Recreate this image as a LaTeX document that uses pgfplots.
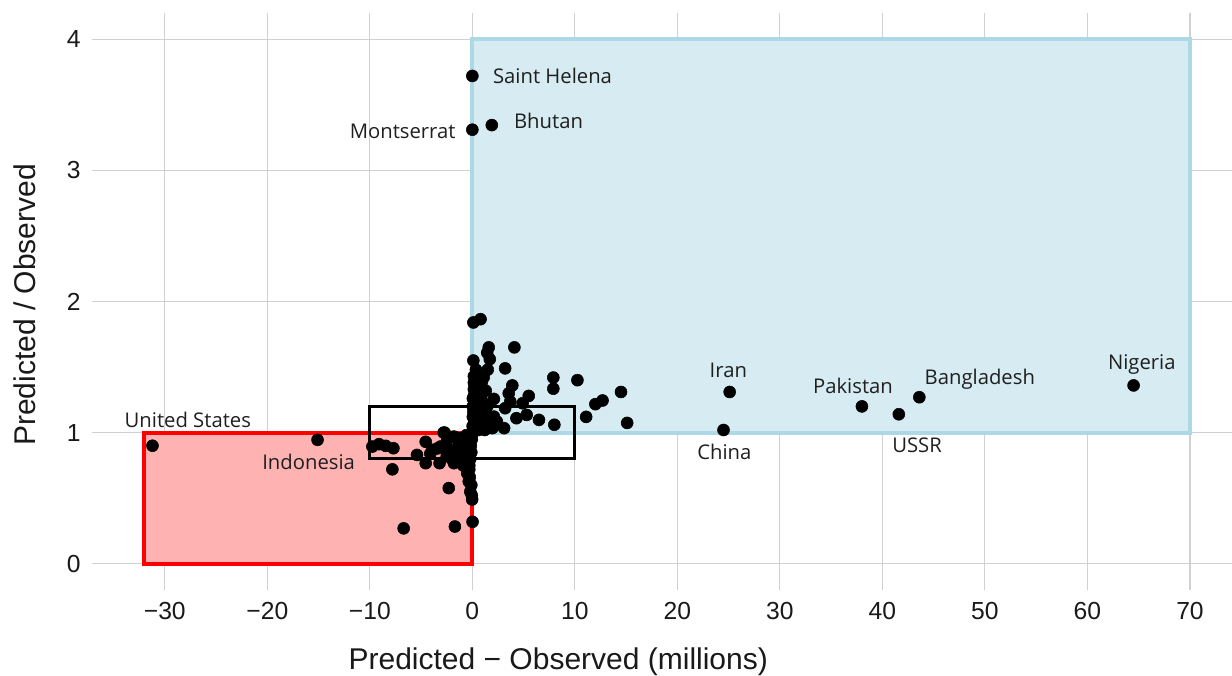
\documentclass[border=0pt]{standalone}
\usepackage{pgfplots}
\pgfplotsset{compat=1.18}
\usepackage{fontspec}
\setmainfont{Liberation Sans}
\newfontfamily\lab{Open Sans}

\definecolor{boxblue}{HTML}{ADD8E6}
\definecolor{fillblue}{HTML}{D6EBF2}
\definecolor{fillred}{HTML}{FFB2B2}
\definecolor{gridgrey}{HTML}{D0D0D0}

\begin{document}
\begin{tikzpicture}
  \begin{axis}[
      name=ax,
      scale only axis,
      width=855pt, height=432.75pt,
      xmin=-37.1, xmax=74.1, ymin=-0.2, ymax=4.2,
      axis line style={draw=none},
      major tick length=0pt,
      xtick={-30,-20,...,70},
      xticklabels={−30,−20,−10,0,10,20,30,40,50,60,70},
      ytick={0,1,2,3,4},
      yticklabels={0,1,2,3,4},
      ticklabel style={font=\fontsize{18.5}{21}\selectfont, text=black!90},
      xticklabel style={yshift=-6pt},
      yticklabel style={xshift=-5pt},
      grid=major,
      major grid style={gridgrey, line width=0.8pt},
      xlabel={Predicted − Observed (millions)},
      ylabel={Predicted / Observed},
      label style={font=\fontsize{22.5}{26}\selectfont, text=black!90},
      xlabel style={at={(axis description cs:0.409,0)}, anchor=center, yshift=-54pt},
      ylabel style={at={(axis description cs:-0.0588,0.494)}, anchor=center},
      clip=false,
    ]
    % regions
    \addplot[fill=fillblue, draw=boxblue, line width=3pt] coordinates {(0,1) (70,1) (70,4) (0,4)} -- cycle;
    \addplot[fill=fillred, draw=red, line width=3pt] coordinates {(-32,0) (0,0) (0,1) (-32,1)} -- cycle;
    \addplot[draw=black, fill=none, line width=2.3pt] coordinates {(-10,0.8) (10,0.8) (10,1.2) (-10,1.2)} -- cycle;

    % countries
    \addplot[only marks, mark=*, mark size=4.5pt, mark options={fill=black, draw=black}] table {
      x y
      0.0 3.72
      0.0 3.31
      1.9 3.345
      -31.2 0.90
      -15.1 0.945
      25.1 1.31
      24.5 1.02
      38.0 1.20
      41.6 1.14
      43.6 1.27
      64.5 1.36
      0.1 1.84
      0.8 1.865
      1.6 1.65
      4.1 1.65
      1.45 1.61
      1.7 1.56
      0.1 1.55
      1.5 1.48
      3.2 1.49
      7.9 1.42
      10.25 1.40
      7.9 1.335
      14.5 1.31
      3.9 1.36
      5.5 1.28
      12.7 1.245
      12.0 1.217
      11.1 1.12
      15.1 1.074
      8.0 1.06
      6.5 1.097
      5.3 1.135
      4.3 1.11
      3.2 1.186
      3.7 1.237
      4.9 1.224
      2.1 1.257
      1.3 1.32
      0.15 1.43
      0.15 1.38
      0.15 1.33
      0.15 1.28
      1.95 1.034
      2.4 1.084
      3.1 1.034
      3.55 1.30
      2.1 1.122
      1.1 1.148
      1.45 1.20
      0.05 1.00
      0.1 1.04
      0.2 1.08
      0.3 1.12
      0.1 1.16
      0.4 1.20
      0.2 1.24
      0.5 1.06
      0.6 1.02
      0.8 1.10
      1.0 1.05
      0.7 1.15
      0.3 1.30
      0.5 1.35
      0.9 1.25
      1.2 1.02
      1.5 1.08
      0.25 1.40
      0.05 1.12
      0.05 1.20
      0.05 1.26
      0.02 1.01
      0.03 1.05
      0.6 1.28
      1.3 1.18
      1.7 1.12
      0.9 1.38
      1.1 1.42
      0.35 1.48
      -9.75 0.894
      -9.1 0.912
      -8.45 0.899
      -7.7 0.881
      -7.8 0.72
      -6.7 0.27
      -1.7 0.284
      -2.3 0.577
      0.02 0.32
      -0.02 0.49
      -0.2 0.55
      -0.35 0.627
      -0.5 0.69
      -0.3 0.75
      -0.2 0.80
      -0.1 0.85
      -0.15 0.90
      -0.05 0.95
      -0.1 0.98
      -0.3 0.72
      -0.25 0.66
      -0.1 0.60
      -0.05 0.52
      -4.55 0.93
      -5.4 0.83
      -4.55 0.767
      -3.2 0.767
      -2.8 1.00
      -3.4 0.88
      -4.1 0.84
      -2.1 0.87
      -1.8 0.767
      -1.8 0.97
      -1.3 0.92
      -1.3 0.843
      -0.8 0.894
      -0.8 0.818
      -3.9 0.869
      -2.45 0.945
      -3.1 0.894
      -2.7 1.00
      -1.0 0.96
      -0.6 0.98
      -0.5 0.93
      -2.0 0.80
      -1.5 0.78
      -0.9 0.75
      -2.5 0.82
      -1.1 0.88
      -0.4 0.85
      -0.7 0.78
    };

    % labels
    \begin{scope}[every node/.style={font=\lab\fontsize{15.2}{18}\selectfont, text=black!88, inner sep=0pt}]
      \node at (axis cs:7.82,3.72) {Saint Helena};
      \node at (axis cs:-6.8,3.30) {Montserrat};
      \node at (axis cs:7.43,3.38) {Bhutan};
      \node at (axis cs:-27.75,1.097) {United States};
      \node at (axis cs:-15.97,0.777) {Indonesia};
      \node at (axis cs:24.97,1.478) {Iran};
      \node at (axis cs:24.58,0.853) {China};
      \node at (axis cs:37.13,1.356) {Pakistan};
      \node at (axis cs:43.38,0.907) {USSR};
      \node at (axis cs:49.5,1.41) {Bangladesh};
      \node at (axis cs:65.3,1.516) {Nigeria};
    \end{scope}
  \end{axis}
  \pgfresetboundingbox
  \path[use as bounding box] ([xshift=-69pt,yshift=-64.5pt]ax.south west) rectangle ([yshift=9.75pt]ax.north east);
\end{tikzpicture}
\end{document}
